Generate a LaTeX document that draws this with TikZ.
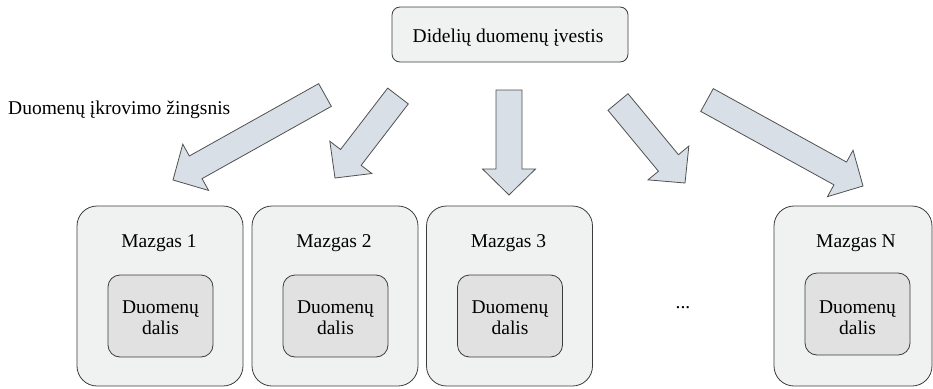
\documentclass[tikz,border=0pt]{standalone}
\usepackage{fontspec}
\setmainfont{Liberation Serif}
\newfontfamily\labelfont{Liberation Serif}
\usetikzlibrary{calc}

\definecolor{arrowfill}{HTML}{D9DFE7}
\definecolor{arrowline}{HTML}{505050}
\definecolor{nodefill}{HTML}{F0F1F1}
\definecolor{partfill}{HTML}{E1E1E1}
\definecolor{edgegray}{HTML}{3C3C3C}

\tikzset{
  txt/.style={font=\labelfont\fontsize{19.5}{21}\selectfont, text=black, inner sep=0pt},
  inputbox/.style={draw=edgegray, fill=nodefill, rounded corners=8pt,
    minimum width=236pt, minimum height=55pt, line width=0.8pt},
  mazgas/.style={draw=edgegray, fill=nodefill, rounded corners=20pt,
    minimum width=166pt, minimum height=180pt, line width=0.8pt},
  part/.style={draw=edgegray, fill=partfill, rounded corners=12pt,
    minimum width=105pt, minimum height=82pt, line width=0.8pt},
  blockarrow/.style={draw=arrowline, fill=arrowfill, line width=0.8pt, line join=miter},
}

% block arrow from a tail coordinate to a tip coordinate
\newcommand{\blockarrowdraw}[2]{%
  \coordinate (#1-neck) at ($(#2)!26pt!(#1)$);
  \draw[blockarrow]
    ($(#1)!13pt!90:(#2)$) -- ($(#1-neck)!13pt!90:(#2)$) --
    ($(#1-neck)!26.5pt!90:(#2)$) -- (#2) --
    ($(#1-neck)!26.5pt!-90:(#2)$) -- ($(#1-neck)!13pt!-90:(#2)$) --
    ($(#1)!13pt!-90:(#2)$) -- cycle;}

\begin{document}
\begin{tikzpicture}[x=1pt, y=-1pt]
  \useasboundingbox (0,0) rectangle (933,388);

  % input
  \node[inputbox] (input) at (510,34.5) {};
  \node[txt, anchor=base] (inputlbl) at (508,42) {Didelių duomenų įvestis};

  % step label
  \node[txt, anchor=base west] (steplbl) at (8,114) {Duomenų įkrovimo žingsnis};

  % nodes
  \node[mazgas] (m1) at (160,296) {};
  \node[mazgas] (m2) at (335,296) {};
  \node[mazgas] (m3) at (509.5,296) {};
  \node[mazgas, minimum width=158pt] (mn) at (853,296) {};

  \node[txt, anchor=base] (m1lbl) at (159,247) {Mazgas 1};
  \node[txt, anchor=base] (m2lbl) at (334,247) {Mazgas 2};
  \node[txt, anchor=base] (m3lbl) at (508.5,247) {Mazgas 3};
  \node[txt, anchor=base] (mnlbl) at (856,247) {Mazgas N};

  \node[part] (p1) at (160.5,316) {};
  \node[part] (p2) at (335.5,316) {};
  \node[part] (p3) at (510,316) {};
  \node[part] (pn) at (857.5,314) {};

  \foreach \p/\x in {p1/160.5, p2/335.5, p3/510, pn/857.5} {
    \node[txt, anchor=base] (\p a) at (\x,313) {Duomenų};
    \node[txt, anchor=base] (\p b) at (\x,334) {dalis};
  }

  \node[txt, anchor=base] (dots) at (683,308) {...};

  % loading arrows
  \coordinate (a1) at (325,95);  \coordinate (h1) at (173,180);
  \coordinate (a2) at (398,96);  \coordinate (h2) at (335,178);
  \coordinate (a3) at (509,90);  \coordinate (h3) at (509,195);
  \coordinate (a4) at (618,102); \coordinate (h4) at (685,183);
  \coordinate (a5) at (707,100); \coordinate (h5) at (863,186);
  \blockarrowdraw{a1}{h1}
  \blockarrowdraw{a2}{h2}
  \blockarrowdraw{a3}{h3}
  \blockarrowdraw{a4}{h4}
  \blockarrowdraw{a5}{h5}
\end{tikzpicture}
\end{document}
